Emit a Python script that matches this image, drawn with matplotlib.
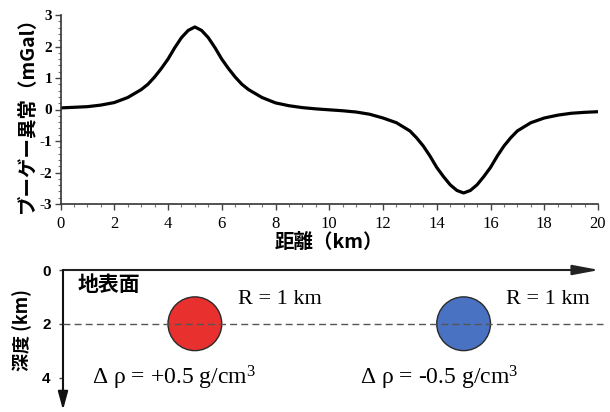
import matplotlib
matplotlib.use("Agg")
import matplotlib.pyplot as plt
from matplotlib.patches import Circle
from matplotlib.ticker import MultipleLocator

plt.rcParams['font.family'] = ['Liberation Serif', 'DejaVu Sans']
plt.rcParams['mathtext.fontset'] = 'custom'
plt.rcParams['mathtext.rm'] = 'Liberation Serif'
plt.rcParams['mathtext.it'] = 'Liberation Serif:italic'

# ---- data ----
dist_km = [0, 0.5, 1, 1.5, 2, 2.5, 3, 3.25, 3.5, 3.75, 4, 4.25, 4.5, 4.75, 5, 5.25, 5.5,
           5.75, 6, 6.25, 6.5, 6.75, 7, 7.5, 8, 8.5, 9, 9.5, 10, 10.5, 11, 11.5, 12,
           12.5, 13, 13.25, 13.5, 13.75, 14, 14.25, 14.5, 14.75, 15, 15.25, 15.5,
           15.75, 16, 16.25, 16.5, 16.75, 17, 17.5, 18, 18.5, 19, 19.5, 20]
anomaly_mgal = [0.05, 0.07, 0.09, 0.14, 0.22, 0.38, 0.63, 0.80, 1.03, 1.30, 1.60, 1.96,
                2.28, 2.51, 2.62, 2.51, 2.28, 1.96, 1.60, 1.30, 1.03, 0.80, 0.63, 0.38,
                0.21, 0.12, 0.06, 0.02, -0.01, -0.04, -0.08, -0.15, -0.27, -0.42, -0.68,
                -0.90, -1.16, -1.48, -1.84, -2.13, -2.39, -2.57, -2.65, -2.57, -2.39,
                -2.13, -1.84, -1.48, -1.16, -0.90, -0.68, -0.42, -0.27, -0.18, -0.12,
                -0.09, -0.07]

sphere_x = [5, 15]
sphere_depth = [2, 2]
sphere_radius = [1, 1]
sphere_colors = ['#e8302e', '#4a72c2']
sphere_labels = ['Δ ρ = +0.5 g/cm$^{3}$', 'Δ ρ = -0.5 g/cm$^{3}$']
depth_ticks = [0, 2, 4]
x_ticks = list(range(0, 21, 2))
y_ticks = [-3, -2, -1, 0, 1, 2, 3]

CJK = ['Noto Sans CJK JP', 'DejaVu Sans']

W, H = 610, 412
fig = plt.figure(figsize=(W / 100, H / 100), dpi=100)

px_per_km = (598 - 60.5) / 20.0

# ---- top panel ----
ax = fig.add_axes([60.5 / W, (H - 204) / H, (598 - 60.5) / W, (204 - 15) / H])
ax.plot(dist_km, anomaly_mgal, color='black', lw=2.3, solid_capstyle='round',
        solid_joinstyle='round')
ax.set_xlim(0, 20)
ax.set_ylim(-3, 3)
for s in ['top', 'right']:
    ax.spines[s].set_visible(False)
for s in ['left', 'bottom']:
    ax.spines[s].set_color('#333333')
    ax.spines[s].set_linewidth(1.2)
ax.xaxis.set_minor_locator(MultipleLocator(0.5))
ax.yaxis.set_minor_locator(MultipleLocator(0.2))
ax.tick_params(which='major', direction='out', length=4, width=1, color='#444444')
ax.tick_params(which='minor', direction='out', length=2, width=0.8, color='#777777')
ax.tick_params(axis='x', pad=5)
ax.tick_params(axis='y', pad=2)
ax.set_xticks(x_ticks, [str(t) for t in x_ticks])
ax.set_yticks(y_ticks, [str(t) for t in y_ticks])
ax.set_xlabel('距離（km）', fontfamily=CJK, fontweight='bold', fontsize=14, labelpad=0)
ax.set_ylabel('ブーゲー異常（mGal）', fontfamily=CJK, fontweight='bold', fontsize=14,
              labelpad=2)

# ---- bottom panel (schematic) ----
x0 = (63 - 60.5) / px_per_km
x1 = (610 - 60.5) / px_per_km
y_bottom = (H - 270) / px_per_km
ax2 = fig.add_axes([63 / W, 0, (610 - 63) / W, (H - 270) / H])
ax2.set_xlim(x0, x1)
ax2.set_ylim(y_bottom, 0)
for s in ax2.spines.values():
    s.set_visible(False)
ax2.set_xticks([])
ax2.set_yticks(depth_ticks, [str(t) for t in depth_ticks])
ax2.tick_params(axis='y', length=3, width=1, color='#444444', pad=6)

# axis arrows
ax2.annotate('', xy=(20.05, 0), xytext=(x0, 0), annotation_clip=False,
             arrowprops=dict(arrowstyle='-|>,head_length=1.6,head_width=0.3',
                             mutation_scale=10, color='#222222', lw=1.5,
                             shrinkA=0, shrinkB=0))
ax2.annotate('', xy=(x0, (410 - 270) / px_per_km), xytext=(x0, 0), annotation_clip=False,
             arrowprops=dict(arrowstyle='-|>,head_length=1.1,head_width=0.3',
                             mutation_scale=10, color='#111111', lw=1.5,
                             shrinkA=0, shrinkB=0))

# spheres
for cx, cd, r, c in zip(sphere_x, sphere_depth, sphere_radius, sphere_colors):
    ax2.add_patch(Circle((cx, cd), r, facecolor=c, edgecolor='#2a2a2a', lw=1.0, zorder=2))

# dashed depth line
ax2.plot([x0, (603 - 60.5) / px_per_km], [2, 2], ls=(0, (5, 3)), color='#555555',
         lw=1.0, zorder=3)

# texts
ax2.text(0.65, 0.55, '地表面', fontfamily=CJK, fontweight='bold', fontsize=15,
         ha='left', va='center')
ax2.text(6.6, 1.1, 'R = 1 km', fontfamily='Liberation Serif', fontsize=16,
         ha='left', va='center')
ax2.text(19.7, 1.1, 'R = 1 km', fontfamily='Liberation Serif', fontsize=16,
         ha='right', va='center')
ax2.text(1.17, 4.0, sphere_labels[0], fontfamily='Liberation Serif', fontsize=17,
         ha='left', va='center')
ax2.text(14.1, 4.0, sphere_labels[1], fontfamily='Liberation Serif', fontsize=17,
         ha='center', va='center')
fig.text(22 / W, (H - 330) / H, '深度 (km)', fontfamily=CJK, fontweight='bold',
         fontsize=13, rotation=90, ha='center', va='center')

# tick label fonts (applied last)
for lab in ax.get_xticklabels():
    lab.set_fontfamily('Liberation Serif')
    lab.set_fontsize(12)
for lab in ax.get_yticklabels():
    lab.set_fontfamily('Liberation Serif')
    lab.set_fontweight('bold')
    lab.set_fontsize(11)
for lab in ax2.get_yticklabels():
    lab.set_fontfamily('Liberation Sans')
    lab.set_fontweight('bold')
    lab.set_fontsize(11)

fig.savefig('out.png', dpi=100, facecolor='white')
